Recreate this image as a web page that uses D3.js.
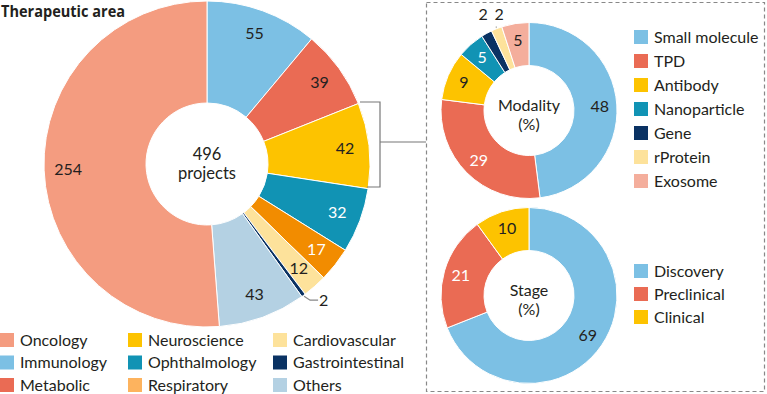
<!DOCTYPE html>
<html>
<head>
<meta charset="utf-8">
<script src="https://cdn.jsdelivr.net/npm/d3@7"></script>
<style>
  body { margin: 0; background: #fff; }
  svg text { font-family: Lato, "Open Sans", sans-serif; fill: #231f20; }
</style>
</head>
<body>
<div id="chart"></div>
<script>
var width = 767, height = 394;

// therapeutic area (number of projects), clockwise from 12 o'clock
const areaNames = ["Immunology", "Metabolic", "Neuroscience", "Ophthalmology", "Respiratory", "Cardiovascular", "Gastrointestinal", "Others", "Oncology"];
const areaValues = [55, 39, 42, 32, 17, 12, 2, 43, 254];
const areaColors = ["#7cc0e4", "#ea6b54", "#fdc300", "#1193b4", "#f28c00", "#fde29b", "#0a3263", "#b4d1e3", "#f49c80"];
const areaLabelWhite = [false, false, false, true, true, false, false, false, false];

// legend order is by column, not by slice order
const legendNames = ["Oncology", "Immunology", "Metabolic", "Neuroscience", "Ophthalmology", "Respiratory", "Cardiovascular", "Gastrointestinal", "Others"];
const legendColors = ["#f49c80", "#7cc0e4", "#ea6b54", "#fdc300", "#1193b4", "#fdb35e", "#fde29b", "#0a3263", "#b4d1e3"];

// modality (%)
const modalityNames = ["Small molecule", "TPD", "Antibody", "Nanoparticle", "Gene", "rProtein", "Exosome"];
const modalityValues = [48, 29, 9, 5, 2, 2, 5];
const modalityColors = ["#7cc0e4", "#ea6b54", "#fdc300", "#1193b4", "#0a3263", "#fde29b", "#f4ae9c"];
const modalityLabelWhite = [false, true, false, true, false, false, false];

// stage (%)
const stageNames = ["Discovery", "Preclinical", "Clinical"];
const stageValues = [69, 21, 10];
const stageColors = ["#7cc0e4", "#ea6b54", "#fdc300"];
const stageLabelWhite = [false, true, false];

var svg = d3.select('#chart').append('svg')
    .attr('width', width)
    .attr('height', height);

svg.append('text')
    .attr('x', 1)
    .attr('y', 17)
    .attr('textLength', 124)
    .attr('lengthAdjust', 'spacingAndGlyphs')
    .style('font-family', '"Open Sans", sans-serif')
    .style('font-weight', 700)
    .style('font-size', '16px')
    .text('Therapeutic area');

var pie = d3.pie().sort(null).value(d => d);

// generic donut; indices in `skip` get their label drawn separately
function drawDonut(cx, cy, rOuter, rInner, labelR, values, colors, whites, skip) {
    var g = svg.append('g').attr('transform', 'translate(' + cx + ',' + cy + ')');
    var arcs = pie(values);
    var arc = d3.arc().innerRadius(rInner).outerRadius(rOuter);
    g.selectAll('path')
        .data(arcs)
        .enter().append('path')
        .attr('d', arc)
        .style('fill', (d, i) => colors[i])
        .style('stroke', '#fff')
        .style('stroke-width', 1);
    var labelArc = d3.arc().innerRadius(labelR).outerRadius(labelR);
    g.selectAll('text.val')
        .data(arcs.filter((d, i) => skip.indexOf(i) < 0))
        .enter().append('text')
        .attr('class', 'val')
        .attr('transform', d => 'translate(' + labelArc.centroid(d) + ')')
        .attr('text-anchor', 'middle')
        .attr('dy', '0.35em')
        .style('font-size', '16px')
        .style('fill', d => whites[d.index] ? '#fff' : '#231f20')
        .text(d => d.data);
    return { g: g, arcs: arcs };
}

// main donut
var main = drawDonut(207, 164, 163, 61, 139, areaValues, areaColors, areaLabelWhite, [6]);
main.g.append('text')
    .attr('text-anchor', 'middle')
    .attr('y', -4)
    .style('font-size', '16.5px')
    .text('496');
main.g.append('text')
    .attr('text-anchor', 'middle')
    .attr('y', 15)
    .style('font-size', '16.5px')
    .text('projects');

// gastrointestinal label with leader
var gi = main.arcs[6];
var edge = d3.arc().innerRadius(164).outerRadius(164).centroid(gi);
main.g.append('path')
    .attr('d', 'M' + edge[0] + ',' + edge[1] + 'l6,4h8')
    .style('fill', 'none')
    .style('stroke', '#888')
    .style('stroke-width', 1.2);
main.g.append('text')
    .attr('x', edge[0] + 15)
    .attr('y', edge[1] + 4)
    .attr('dy', '0.35em')
    .style('font-size', '16px')
    .text(gi.data);

// bracket around neuroscience slice to the detail panel
svg.append('path')
    .attr('d', 'M360,102H380V187H367M380,142H426')
    .style('fill', 'none')
    .style('stroke', '#777')
    .style('stroke-width', 1.2);

// dashed panel
svg.append('rect')
    .attr('x', 426.5)
    .attr('y', 2.5)
    .attr('width', 338)
    .attr('height', 389)
    .style('fill', 'none')
    .style('stroke', '#888')
    .style('stroke-width', 1.2)
    .style('stroke-dasharray', '4,3');

// modality donut
var mod = drawDonut(529, 110.5, 88, 45, 71, modalityValues, modalityColors, modalityLabelWhite, [4, 5]);
var smallShift = { 4: -3, 5: 3 };
var tickTop = { 4: -78, 5: -84 };
[4, 5].forEach(function (k) {
    var p = d3.arc().innerRadius(89).outerRadius(89).centroid(mod.arcs[k]);
    mod.g.append('line')
        .attr('x1', p[0]).attr('x2', p[0])
        .attr('y1', p[1]).attr('y2', tickTop[k])
        .style('stroke', '#888')
        .style('stroke-width', 1);
    mod.g.append('text')
        .attr('x', p[0] + smallShift[k])
        .attr('y', -96)
        .attr('text-anchor', 'middle')
        .attr('dy', '0.35em')
        .style('font-size', '16px')
        .text(mod.arcs[k].data);
});
mod.g.append('text').attr('text-anchor', 'middle').attr('y', 0).style('font-size', '16px').text('Modality');
mod.g.append('text').attr('text-anchor', 'middle').attr('y', 19).style('font-size', '16px').text('(%)');

// stage donut
var stg = drawDonut(529, 295.5, 88, 45, 71, stageValues, stageColors, stageLabelWhite, []);
stg.g.append('text').attr('text-anchor', 'middle').attr('y', 0).style('font-size', '16px').text('Stage');
stg.g.append('text').attr('text-anchor', 'middle').attr('y', 19).style('font-size', '16px').text('(%)');

// legends
function drawLegend(x, y0, step, names, colors) {
    var rows = svg.append('g')
        .selectAll('g')
        .data(names)
        .enter().append('g')
        .attr('transform', (d, i) => 'translate(' + x + ',' + (y0 + i * step) + ')');
    rows.append('rect')
        .attr('x', 0)
        .attr('y', -7)
        .attr('width', 14)
        .attr('height', 14)
        .style('fill', (d, i) => colors[i]);
    rows.append('text')
        .attr('x', 20)
        .attr('dy', '0.35em')
        .style('font-size', '16px')
        .text(d => d);
}

drawLegend(634, 37, 24, modalityNames, modalityColors);
drawLegend(634, 271, 23, stageNames, stageColors);
drawLegend(0, 340, 22.5, legendNames.slice(0, 3), legendColors.slice(0, 3));
drawLegend(128, 340, 22.5, legendNames.slice(3, 6), legendColors.slice(3, 6));
drawLegend(273, 340, 22.5, legendNames.slice(6, 9), legendColors.slice(6, 9));
</script>
</body>
</html>
